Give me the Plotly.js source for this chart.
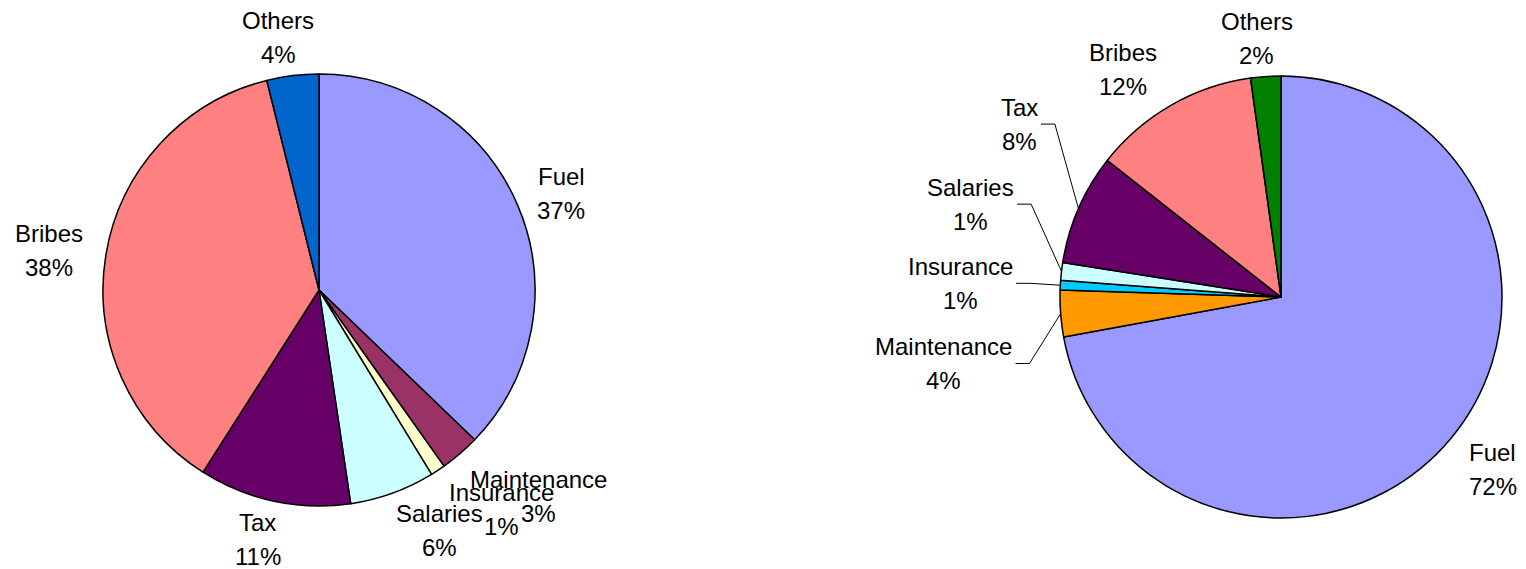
<!DOCTYPE html>
<html>
<head>
<meta charset="utf-8">
<script src="https://cdn.plot.ly/plotly-3.0.1.min.js"></script>
<style>html,body{margin:0;padding:0;background:#fff;}#chart{width:1526px;height:569px;}</style>
</head>
<body>
<div id="chart"></div>
<script>
// Categories (clockwise from 12 o'clock)
const categories = ["Fuel", "Maintenance", "Insurance", "Salaries", "Tax", "Bribes", "Others"];

// Left pie
const leftValues = [37.3, 3.0, 1.1, 6.4, 11.4, 37.2, 3.9];
const leftLabels = ["37%", "3%", "1%", "6%", "11%", "38%", "4%"];
const leftColors = ["#9999FF", "#993366", "#FFFFCC", "#CCFFFF", "#660066", "#FF8080", "#0066CC"];

// Right pie
const rightValues = [72.1, 3.4, 0.7, 1.3, 8.1, 12.2, 2.2];
const rightLabels = ["72%", "4%", "1%", "1%", "8%", "12%", "2%"];
const rightColors = ["#9999FF", "#FF9900", "#00CCFF", "#CCFFFF", "#660066", "#FF8080", "#008000"];

// ---- layout / style settings (pixels) ----
const W = 1526, H = 569;
const FONT = "Liberation Sans, Arial, sans-serif";
const FS = 24, LINE = 34;
const leftGeom = {cx: 319, cy: 290, r: 216, dist: 260,
  nudge: [[3, 5], [50, 9], [39, 2], [32, -3.5], [-7, -4.5], [-13, 2.5], [-9, 6]],
  leader: [false, false, false, false, false, false, false]};
const rightGeom = {cx: 1281, cy: 297, r: 221, dist: 266,
  nudge: [[7.5, 2], [-72, 46.5], [-55, 0.5], [-46, -62], [-18, -66.5], [-25, 3.5], [-6, 7]],
  leader: [false, true, true, true, true, false, false]};

const px = x => x / W;
const py = y => 1 - y / H;

const ctx = document.createElement("canvas").getContext("2d");
ctx.font = FS + "px 'Liberation Sans'";

function pie(values, colors, g) {
  return {
    type: "pie",
    labels: categories,
    values: values,
    textinfo: "none",
    sort: false,
    direction: "clockwise",
    rotation: 0,
    marker: {colors: colors, line: {color: "#000000", width: 1.5}},
    domain: {x: [px(g.cx - g.r), px(g.cx + g.r)], y: [py(g.cy + g.r), py(g.cy - g.r)]},
    automargin: false,
    showlegend: false
  };
}

const annotations = [];
const shapes = [];
function addLabels(values, pcts, g) {
  const total = values.reduce((a, b) => a + b, 0);
  let cum = 0;
  values.forEach((v, i) => {
    const mid = (cum + v / 2) / total * 2 * Math.PI;
    cum += v;
    const s = Math.sin(mid), c = Math.cos(mid);
    const lx = g.cx + g.dist * s + g.nudge[i][0];
    const ly = g.cy - g.dist * c + g.nudge[i][1];
    [[categories[i], ly - LINE / 2], [pcts[i], ly + LINE / 2]].forEach(([t, y]) => {
      annotations.push({
        text: t, x: px(lx), y: py(y), xref: "paper", yref: "paper",
        xanchor: "center", yanchor: "middle", showarrow: false,
        font: {family: FONT, size: FS, color: "#000000"}
      });
    });
    if (g.leader[i]) {
      const half = Math.max(ctx.measureText(categories[i]).width, ctx.measureText(pcts[i]).width) / 2;
      const x0 = lx + half + 3, x1 = lx + half + 17;
      const ex = g.cx + g.r * s, ey = g.cy - g.r * c;
      shapes.push({
        type: "path", xref: "paper", yref: "paper",
        path: `M ${px(x0)} ${py(ly)} L ${px(x1)} ${py(ly)} L ${px(ex)} ${py(ey)}`,
        line: {color: "#000000", width: 1}
      });
    }
  });
}
addLabels(leftValues, leftLabels, leftGeom);
addLabels(rightValues, rightLabels, rightGeom);

const data = [pie(leftValues, leftColors, leftGeom), pie(rightValues, rightColors, rightGeom)];

const layout = {
  width: W, height: H,
  margin: {l: 0, r: 0, t: 0, b: 0},
  paper_bgcolor: "#ffffff",
  showlegend: false,
  font: {family: FONT, color: "#000000"},
  annotations: annotations,
  shapes: shapes
};

Plotly.newPlot("chart", data, layout, {staticPlot: true});
</script>
</body>
</html>
